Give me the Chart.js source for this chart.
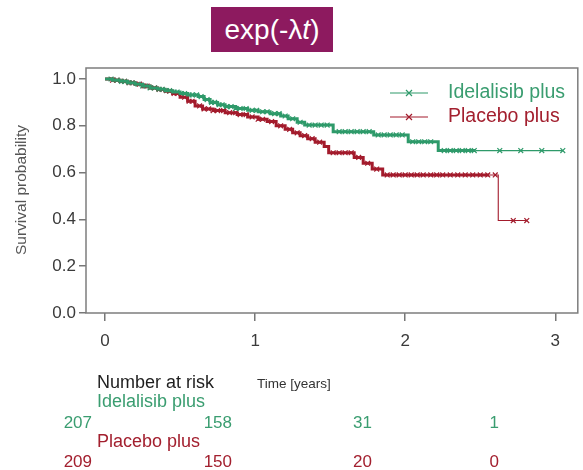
<!DOCTYPE html>
<html><head><meta charset="utf-8">
<script src="https://cdn.jsdelivr.net/npm/chart.js@4"></script>
<style>
html,body{margin:0;padding:0;background:#fff;}
#wrap{position:relative;width:583px;height:470px;overflow:hidden;}
#c{position:absolute;left:0;top:0;}
#title{position:absolute;left:211px;top:7px;width:122px;height:45px;background:#8d1a5f;color:#fff;font:28px "Liberation Sans",Arial,sans-serif;display:flex;align-items:center;justify-content:center;}
</style></head>
<body><div id="wrap"><canvas id="c" width="583" height="470"></canvas><div id="title">exp(-λ<i>t</i>)</div></div>
<script>
// ---- data ----
const seriesNames = ['Idelalisib plus', 'Placebo plus'];
const xTicks = [0, 1, 2, 3];
const yTicks = [0, 0.2, 0.4, 0.6, 0.8, 1.0];

const greenTimes = [0.00,0.05,0.10,0.15,0.20,0.25,0.30,0.35,0.40,0.45,0.50,0.55,0.62,0.66,0.70,0.75,0.80,0.87,0.95,1.02,1.10,1.17,1.22,1.28,1.33,1.52,1.79,2.02,2.22,2.47,3.05];
const greenSurv  = [1.000,0.995,0.990,0.984,0.978,0.970,0.962,0.956,0.950,0.944,0.938,0.932,0.925,0.912,0.900,0.890,0.882,0.874,0.866,0.860,0.852,0.842,0.830,0.815,0.803,0.775,0.761,0.732,0.694,0.694,0.694];

const redTimes = [0.00,0.05,0.10,0.15,0.20,0.25,0.30,0.35,0.40,0.45,0.50,0.55,0.60,0.65,0.72,0.80,0.88,0.95,1.02,1.08,1.14,1.20,1.25,1.30,1.35,1.40,1.46,1.49,1.66,1.72,1.78,1.85,2.56,2.62,2.81];
const redSurv  = [1.000,0.995,0.990,0.984,0.978,0.970,0.962,0.955,0.948,0.938,0.922,0.905,0.885,0.872,0.865,0.856,0.848,0.838,0.828,0.818,0.800,0.785,0.770,0.758,0.745,0.730,0.711,0.685,0.665,0.640,0.615,0.590,0.590,0.395,0.395];

const greenCensor = [0.04,0.08,0.11,0.13,0.16,0.18,0.22,0.25,0.27,0.30,0.33,0.36,0.38,0.41,0.43,0.46,0.48,0.51,0.53,0.56,0.58,0.61,0.64,0.68,0.71,0.73,0.76,0.78,0.81,0.84,0.87,0.90,0.94,0.98,1.01,1.05,1.08,1.13,1.16,1.20,1.25,1.30,1.36,1.40,1.44,1.48,1.56,1.60,1.64,1.68,1.72,1.76,1.82,1.86,1.90,1.94,1.98,2.05,2.09,2.13,2.17,2.26,2.30,2.34,2.38,2.42,2.46,2.63,2.77,2.91,3.05];
const redCensor = [0.05,0.08,0.13,0.16,0.18,0.23,0.26,0.28,0.33,0.36,0.38,0.43,0.46,0.48,0.53,0.56,0.58,0.63,0.66,0.69,0.72,0.75,0.79,0.83,0.87,0.90,0.94,0.98,1.02,1.05,1.11,1.17,1.23,1.28,1.33,1.38,1.43,1.52,1.56,1.60,1.64,1.69,1.75,1.81,1.88,1.92,1.96,2.00,2.04,2.08,2.12,2.17,2.21,2.25,2.30,2.35,2.40,2.45,2.50,2.55,2.60,2.72,2.81];

const riskGreen = [207, 158, 31, 1];
const riskRed   = [209, 150, 20, 0];

// ---- styling ----
const GREEN = '#2e9a6a', RED = '#a31b2c';
const GREEN_TXT = '#3a9d70', RED_TXT = '#a3202f';
const FONT = '"Liberation Sans", Arial, sans-serif';

function stepPoints(ts, ss){ return ts.map((t,i)=>({x:t, y:ss[i]})); }
function survAt(ts, ss, t){ let v = ss[0]; for(let i=0;i<ts.length;i++){ if(ts[i] <= t) v = ss[i]; } return v; }
function censorPoints(cs, ts, ss){ return cs.map(t=>({x:t, y:survAt(ts, ss, t)})); }

const framePlugin = {
  id:'frame',
  afterDatasetsDraw(chart){
    const {ctx, chartArea:a} = chart;
    ctx.save();
    ctx.strokeStyle = '#7d7d7d'; ctx.lineWidth = 1.5;
    ctx.strokeRect(a.left, a.top, a.right-a.left, a.bottom-a.top);
    ctx.restore();
  }
};

function crossMark(ctx, x, y, r){
  ctx.beginPath();
  ctx.moveTo(x-r, y-r); ctx.lineTo(x+r, y+r);
  ctx.moveTo(x-r, y+r); ctx.lineTo(x+r, y-r);
  ctx.stroke();
}

const legendPlugin = {
  id:'kmLegend',
  afterDraw(chart){
    const ctx = chart.ctx;
    const items = [{name:seriesNames[0], c:GREEN, tc:GREEN_TXT, y:93},{name:seriesNames[1], c:RED, tc:RED_TXT, y:117}];
    ctx.save();
    items.forEach(it=>{
      ctx.strokeStyle = it.c; ctx.lineWidth = 1.2;
      ctx.beginPath(); ctx.moveTo(390, it.y); ctx.lineTo(428, it.y); ctx.stroke();
      crossMark(ctx, 409, it.y, 3);
      ctx.fillStyle = it.tc; ctx.font = '19.5px ' + FONT;
      ctx.textAlign = 'left'; ctx.textBaseline = 'middle';
      ctx.fillText(it.name, 448, it.y);
    });
    // y axis title
    ctx.fillStyle = '#555'; ctx.font = '15.5px ' + FONT;
    ctx.translate(22, 190); ctx.rotate(-Math.PI/2);
    ctx.textAlign = 'center'; ctx.textBaseline = 'middle';
    ctx.fillText('Survival probability', 0, 0);
    ctx.restore();
  }
};

const riskPlugin = {
  id:'riskTable',
  afterDraw(chart){
    const ctx = chart.ctx;
    const cols = [92, 232, 372, 499];
    ctx.save();
    ctx.textBaseline = 'middle'; ctx.textAlign = 'left';
    ctx.fillStyle = '#1e1e1e'; ctx.font = '18px ' + FONT;
    ctx.fillText('Number at risk', 97, 383);
    ctx.fillStyle = '#333'; ctx.font = '13.5px ' + FONT;
    ctx.fillText('Time [years]', 257, 384);
    ctx.fillStyle = GREEN_TXT; ctx.font = '18px ' + FONT;
    ctx.fillText(seriesNames[0], 97, 402);
    ctx.fillStyle = RED_TXT;
    ctx.fillText(seriesNames[1], 97, 442);
    ctx.font = '17px ' + FONT; ctx.textAlign = 'right';
    ctx.fillStyle = GREEN_TXT;
    riskGreen.forEach((v,i)=>ctx.fillText(String(v), cols[i], 423));
    ctx.fillStyle = RED_TXT;
    riskRed.forEach((v,i)=>ctx.fillText(String(v), cols[i], 462));
    ctx.restore();
  }
};

const thinFrom = [2.47, 2.56];

new Chart(document.getElementById('c'), {
  type:'line',
  data:{
    datasets:[
      {label:seriesNames[0], data:stepPoints(greenTimes, greenSurv), borderColor:GREEN, stepped:true, pointRadius:0, fill:false,
       borderWidth:3, segment:{borderWidth: c => c.p0.parsed.x >= thinFrom[0] ? 1.1 : 3}},
      {label:seriesNames[1], data:stepPoints(redTimes, redSurv), borderColor:RED, stepped:true, pointRadius:0, fill:false,
       borderWidth:3, segment:{borderWidth: c => c.p0.parsed.x >= thinFrom[1] ? 1.1 : 3}},
      {label:'g-censor', data:censorPoints(greenCensor, greenTimes, greenSurv), showLine:false, pointStyle:'crossRot',
       pointRadius:3.4, pointBorderWidth:1.2, pointBorderColor:GREEN, pointBackgroundColor:GREEN},
      {label:'r-censor', data:censorPoints(redCensor, redTimes, redSurv), showLine:false, pointStyle:'crossRot',
       pointRadius:3.4, pointBorderWidth:1.2, pointBorderColor:RED, pointBackgroundColor:RED}
    ]
  },
  options:{
    responsive:false, animation:false, devicePixelRatio:1,
    layout:{padding:{left:0, right:5, top:68, bottom:117}},
    plugins:{legend:{display:false}, tooltip:{enabled:false}},
    scales:{
      x:{type:'linear', min:-0.127, max:3.15,
         afterBuildTicks: s => { s.ticks = xTicks.map(v=>({value:v})); },
         afterFit: s => { s.height = 40; },
         grid:{drawOnChartArea:false, drawTicks:true, tickLength:8, color:'#777', lineWidth:1.5},
         border:{display:false},
         ticks:{padding:10, color:'#3a3a3a', font:{family:FONT, size:17}, maxRotation:0, callback:v=>String(v)}},
      y:{type:'linear', min:0, max:1.047,
         afterBuildTicks: s => { s.ticks = yTicks.map(v=>({value:v})); },
         afterFit: s => { s.width = 86; },
         grid:{drawOnChartArea:false, drawTicks:true, tickLength:7, color:'#777', lineWidth:1.5},
         border:{display:false},
         ticks:{padding:3, color:'#3a3a3a', font:{family:FONT, size:17}, callback:v=>Number(v).toFixed(1)}}
    }
  },
  plugins:[framePlugin, legendPlugin, riskPlugin]
});
</script>
</body></html>
